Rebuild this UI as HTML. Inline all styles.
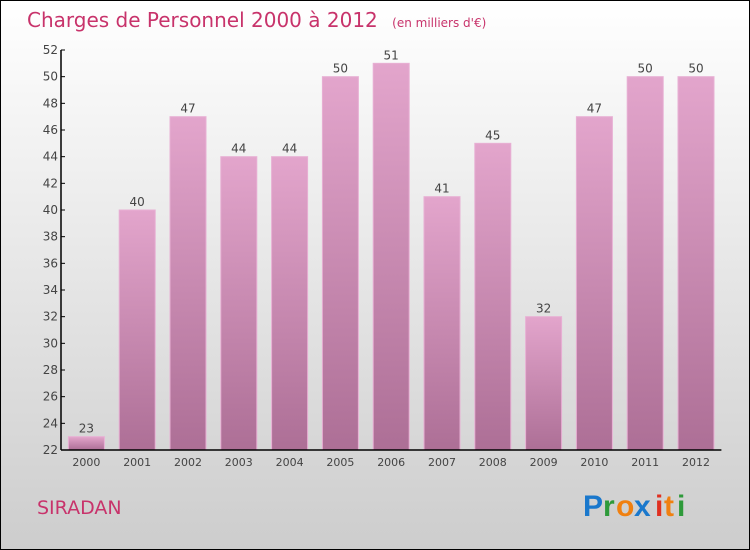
<!DOCTYPE html>
<html><head><meta charset="utf-8"><style>
body{margin:0}
svg{display:block;font-family:"DejaVu Sans","Liberation Sans",sans-serif}
</style></head><body>
<svg width="750" height="550" viewBox="0 0 750 550">
<defs>
<linearGradient id="bg" x1="0" y1="0" x2="0" y2="1"><stop offset="0" stop-color="#ffffff"/><stop offset="1" stop-color="#cdcdcd"/></linearGradient>
<linearGradient id="bar" x1="0" y1="0" x2="0" y2="1"><stop offset="0" stop-color="#e3a5cc"/><stop offset="1" stop-color="#ad6f96"/></linearGradient>
</defs>
<rect x="0.5" y="0.5" width="749" height="549" fill="url(#bg)" stroke="#000"/>
<text x="27" y="27" font-size="20" fill="#c8336b">Charges de Personnel 2000 à 2012 <tspan font-size="12" dx="8">(en milliers d'€)</tspan></text>
<g id="plot"></g>
<text x="37" y="514" font-size="19" fill="#c8336b">SIRADAN</text>
<g font-family="Liberation Sans, sans-serif" font-size="30" font-weight="bold">
<text x="583" y="516" fill="#1a78cc">P</text><text x="603" y="516" fill="#2e9a3a">r</text><text x="616" y="516" fill="#f08010">o</text><text x="634" y="516" fill="#1a78cc">x</text><text x="655" y="516" fill="#e03020">i</text><text x="664" y="516" fill="#f08010">t</text><text x="677" y="516" fill="#2e9a3a">i</text>
</g>
</svg>
<script>
const categories=["2000","2001","2002","2003","2004","2005","2006","2007","2008","2009","2010","2011","2012"];
const values=[23,40,47,44,44,50,51,41,45,32,47,50,50];
const yTicks=[22,24,26,28,30,32,34,36,38,40,42,44,46,48,50,52];
const NS="http://www.w3.org/2000/svg";
const g=document.getElementById('plot');
const x0=61,slot=50.8,yMin=22,yMax=52,yTop=50,yBot=450;
const y=v=>yBot-(v-yMin)/(yMax-yMin)*(yBot-yTop);
const cx=i=>x0+slot*(i+0.5);
function mk(t,a){const e=document.createElementNS(NS,t);for(const k in a)e.setAttribute(k,a[k]);g.appendChild(e);return e;}
values.forEach((v,i)=>{
 const r=mk('rect',{x:cx(i)-18,y:y(v),width:36,height:yBot-y(v),fill:'url(#bar)',stroke:'#e8b0d4','stroke-width':1});
 
 
 const t=mk('text',{x:cx(i),y:y(v)-4,'text-anchor':'middle','font-size':12,fill:'#444'});
 t.textContent=v;
 
 
 const c=mk('text',{x:cx(i),y:466,'text-anchor':'middle','font-size':11,fill:'#444'});
 c.textContent=categories[i];
 
 
});
yTicks.forEach(v=>{
 const l=mk('line',{x1:x0,x2:x0+4,y1:y(v),y2:y(v),stroke:'#000'});
 
 
 const t=mk('text',{x:x0-3,y:y(v)+4,'text-anchor':'end','font-size':12,fill:'#444'});
 t.textContent=v;
 
 
});
const ya=mk('line',{x1:x0,x2:x0,y1:yTop,y2:yBot,stroke:'#000','stroke-width':1.5});


const xa=mk('line',{x1:x0,x2:x0+slot*categories.length,y1:yBot,y2:yBot,stroke:'#000','stroke-width':1.5});


</script>
</body></html>
